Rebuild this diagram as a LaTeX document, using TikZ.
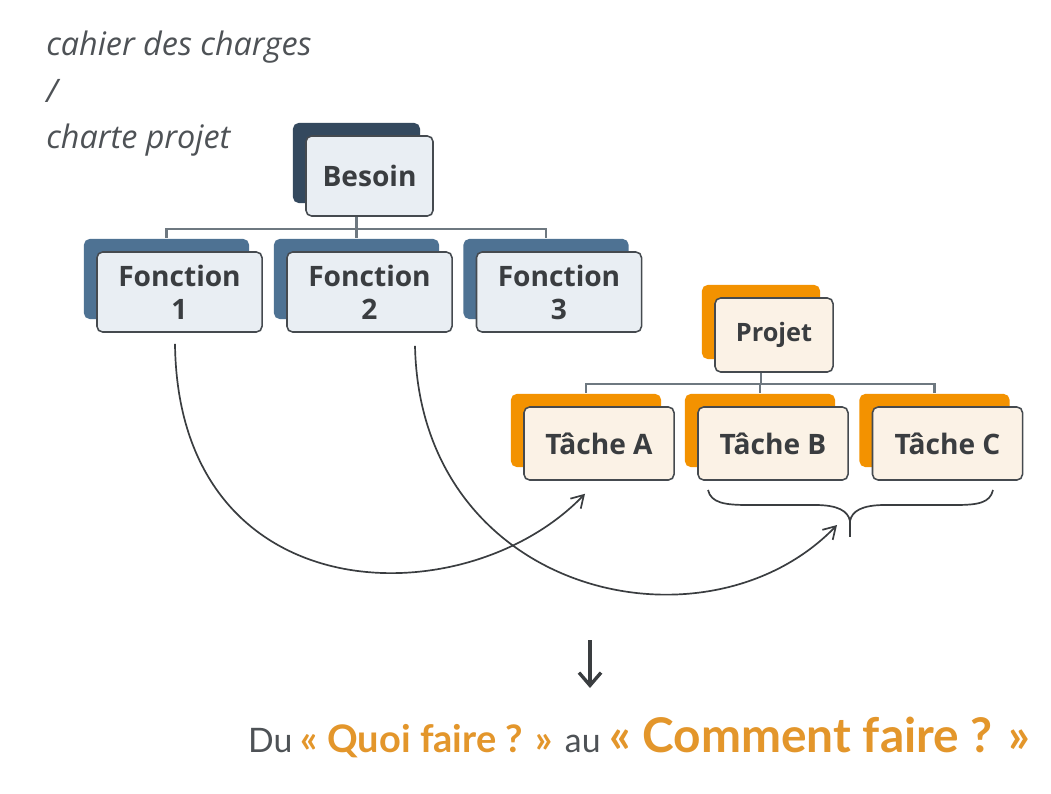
\documentclass[tikz,border=0pt]{standalone}
\usepackage{fontspec}
\setmainfont{Open Sans}
\newfontfamily\latofont{Lato}
\usetikzlibrary{arrows.meta,shadows}
\definecolor{boxline}{HTML}{454A4F}
\definecolor{txtdark}{HTML}{3A3D40}
\definecolor{txtgray}{HTML}{4E5256}
\definecolor{slateback}{HTML}{34495E}
\definecolor{fctback}{HTML}{4E7293}
\definecolor{fctfill}{HTML}{E9EEF3}
\definecolor{orgback}{HTML}{F39200}
\definecolor{orgfill}{HTML}{FBF2E6}
\definecolor{treegray}{HTML}{6E7880}
\definecolor{mottoorg}{HTML}{E3962B}

\begin{document}
\begin{tikzpicture}[x=0.025cm,y=-0.025cm,
  box/.style={draw=boxline,line width=1.1pt,rounded corners=4pt,align=center,inner sep=0pt,text=txtdark,font=\bfseries\fontsize{20}{23.5}\selectfont},
  besoinbox/.style={box,fill=fctfill,minimum width=3.175cm,minimum height=2cm,general shadow={fill=slateback,shadow xshift=-9.25pt,shadow yshift=9.25pt}},
  fctbox/.style={box,fill=fctfill,minimum width=4.125cm,minimum height=2cm,general shadow={fill=fctback,shadow xshift=-9.25pt,shadow yshift=9.25pt}},
  projbox/.style={box,fill=orgfill,minimum width=2.95cm,minimum height=1.85cm,font=\bfseries\fontsize{18}{21}\selectfont,general shadow={fill=orgback,shadow xshift=-9.25pt,shadow yshift=9.25pt}},
  tachebox/.style={box,fill=orgfill,minimum width=3.75cm,minimum height=1.825cm,general shadow={fill=orgback,shadow xshift=-9.25pt,shadow yshift=9.25pt}},
  tree/.style={draw=treegray,line width=1.5pt},
  link/.style={draw=txtdark,line width=1.2pt},
  linkarrow/.style={link,-{Straight Barb[length=3mm,width=3.6mm]}}]
\fill[white] (0,0) rectangle (1051,794);
\useasboundingbox (0,0) rectangle (1051,794);
\node[anchor=north west,inner sep=0pt,align=left,text=txtgray,font=\itshape\fontsize{23}{33}\selectfont] (cdc) at (46,31) {cahier des charges\\/\\charte projet};
\node[besoinbox] (besoin) at (369.5,176) {Besoin};
\node[fctbox] (f1) at (179.5,292) {Fonction\\1};
\node[fctbox] (f2) at (369.5,292) {Fonction\\2};
\node[fctbox] (f3) at (559,292) {Fonction\\3};
\node[projbox] (projet) at (774,335) {Projet};
\node[tachebox] (ta) at (599,443.5) {Tâche A};
\node[tachebox] (tb) at (773,443.5) {Tâche B};
\node[tachebox] (tc) at (947.5,443.5) {Tâche C};
\foreach \f in {f1,f2,f3}
  \draw[tree] ([shift={(-13,0)}]besoin.south) -- ++(0,12) -| ([shift={(-13,-13)}]\f.north);
\foreach \t in {ta,tb,tc}
  \draw[tree] ([shift={(-13,0)}]projet.south) -- ++(0,11) -| ([shift={(-13,-13)}]\t.north);
\draw[link] (708,490) .. controls (711,503) and (725,505) .. (748,505) -- (815,505) .. controls (838,505) and (848,511) .. (850,521) coordinate (bracejoin) .. controls (852,511) and (862,505) .. (885,505) -- (955,505) .. controls (978,505) and (990,503) .. (993,490);
\draw[link] (bracejoin) -- (850,537) coordinate (bracetip);
\draw[linkarrow] ([shift={(-4.5,11)}]f1.south) .. controls +(3,270) and +(-120,125) .. ([shift={(-14,13)}]ta.south);
\draw[linkarrow] ([shift={(45.5,13)}]f2.south) .. controls +(5,250) and +(-130,135) .. ([shift={(-13,-12)}]bracetip);
\node[anchor=base,inner sep=0pt,font=\latofont] (motto) at (639,752) {{\color{txtgray}\fontsize{24}{28}\selectfont Du }{\color{mottoorg}\bfseries\fontsize{27}{30}\selectfont « Quoi faire ? » }{\color{txtgray}\fontsize{24}{28}\selectfont au }{\color{mottoorg}\bfseries\fontsize{34}{38}\selectfont « Comment faire ? »}};
\coordinate (dtop) at (590,640);
\coordinate (dtip) at (590,688);
\draw[draw=txtdark,line width=2.4pt,-{Straight Barb[length=3.2mm,width=5.5mm]}] (dtop) -- (dtip);
\end{tikzpicture}
\end{document}
